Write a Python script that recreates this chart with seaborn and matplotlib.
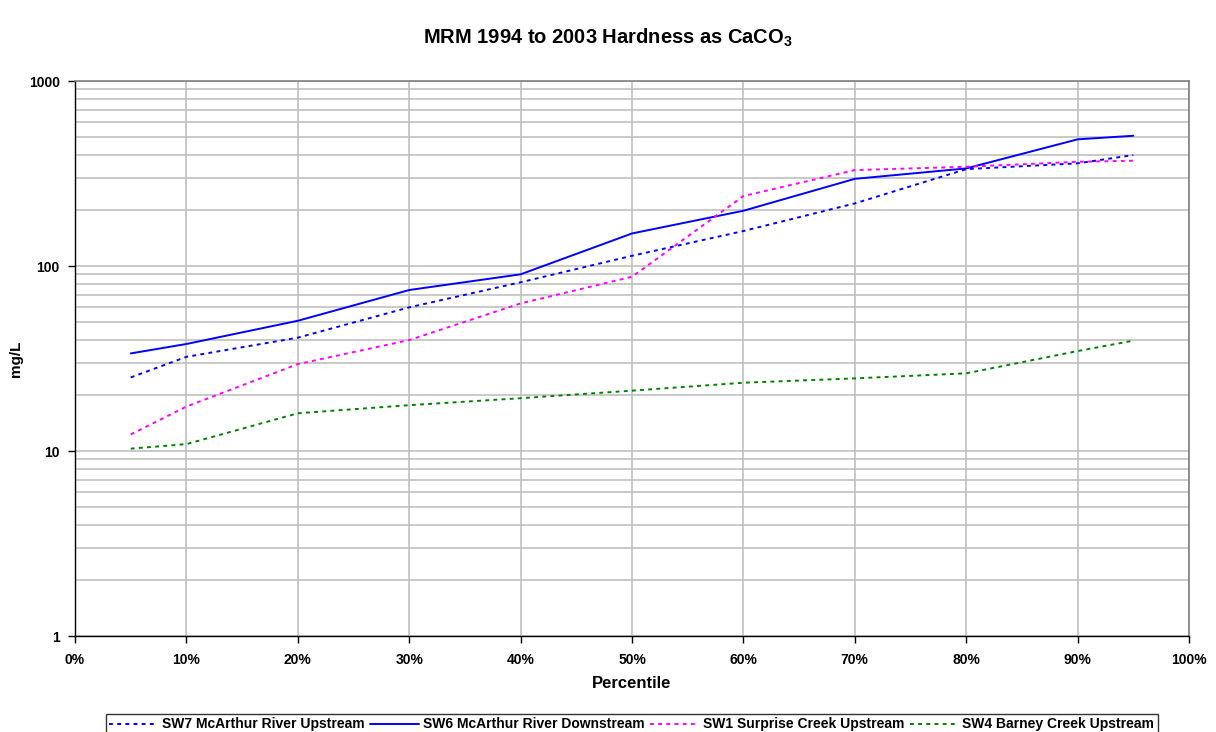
import matplotlib
matplotlib.use("Agg")
import matplotlib.pyplot as plt
import seaborn as sns
import pandas as pd
from matplotlib.ticker import FixedLocator, LogLocator, NullFormatter, FixedFormatter

percentiles = [5, 10, 20, 30, 40, 50, 60, 70, 80, 90, 95]
sw7 = [25.0, 32.3, 41.0, 59.8, 81.7, 113.6, 154.6, 218, 334, 359, 398]
sw6 = [33.7, 37.9, 50.6, 74.2, 90.2, 150, 199, 296, 337, 484, 506]
sw1 = [12.3, 17.4, 29.5, 39.8, 62.8, 87.5, 239, 330, 344, 366, 371]
sw4 = [10.3, 10.9, 16.0, 17.7, 19.3, 21.2, 23.4, 24.7, 26.3, 34.7, 39.5]
series_names = ["SW7 McArthur River Upstream", "SW6 McArthur River Downstream",
                "SW1 Surprise Creek Upstream", "SW4 Barney Creek Upstream"]
x_ticks = [0, 10, 20, 30, 40, 50, 60, 70, 80, 90, 100]
x_labels = ["0%", "10%", "20%", "30%", "40%", "50%", "60%", "70%", "80%", "90%", "100%"]
y_ticks = [1, 10, 100, 1000]
y_labels = ["1", "10", "100", "1000"]

sns.set_style("white")
plt.rcParams["font.family"] = ["Liberation Sans", "DejaVu Sans"]
plt.rcParams["text.color"] = "black"
plt.rcParams["axes.labelcolor"] = "black"
plt.rcParams["xtick.color"] = "black"
plt.rcParams["ytick.color"] = "black"

df = pd.DataFrame({
    "Percentile": percentiles * 4,
    "value": sw7 + sw6 + sw1 + sw4,
    "series": sum([[n] * len(percentiles) for n in series_names], []),
})

colors = {series_names[0]: "#0000ff", series_names[1]: "#0000ff",
          series_names[2]: "#ff00ff", series_names[3]: "#008000"}
dashes = {series_names[0]: (2, 2.2), series_names[1]: "",
          series_names[2]: (2, 2.2), series_names[3]: (2, 2.2)}

fig = plt.figure(figsize=(12.16, 7.32), dpi=100)
ax = fig.add_axes([0.0617, 0.1311, 0.9161, 0.7582])

sns.lineplot(data=df, x="Percentile", y="value", hue="series", style="series",
             palette=colors, dashes=dashes, hue_order=series_names,
             style_order=series_names, linewidth=1.4, ax=ax, legend=True)

ax.set_yscale("log")
ax.set_ylim(1, 1000)
ax.set_xlim(0, 100)

ax.yaxis.set_major_locator(FixedLocator(y_ticks))
ax.yaxis.set_major_formatter(FixedFormatter(y_labels))
ax.yaxis.set_minor_locator(LogLocator(base=10, subs=range(2, 10)))
ax.yaxis.set_minor_formatter(NullFormatter())
ax.xaxis.set_major_locator(FixedLocator(x_ticks))
ax.xaxis.set_major_formatter(FixedFormatter(x_labels))

ax.grid(True, which="major", axis="both", color="#c0c0c0", linewidth=1.2)
ax.grid(True, which="minor", axis="y", color="#c0c0c0", linewidth=1.2)
ax.set_axisbelow(True)

for s in ["top", "right"]:
    ax.spines[s].set_color("#808080")
    ax.spines[s].set_linewidth(1.2)
for s in ["left", "bottom"]:
    ax.spines[s].set_color("black")
    ax.spines[s].set_linewidth(1.0)

ax.tick_params(axis="both", which="major", direction="out", length=5, width=1,
               color="black", labelsize=10, left=True, bottom=True)
ax.tick_params(axis="x", which="major", pad=7)
ax.tick_params(axis="y", which="major", pad=6)
ax.tick_params(axis="y", which="minor", left=False)
for lbl in ax.get_xticklabels() + ax.get_yticklabels():
    lbl.set_fontweight("bold")

ax.set_xlabel("Percentile", fontsize=12, fontweight="bold", labelpad=7)
ax.set_ylabel("mg/L", fontsize=11, fontweight="bold")
ax.yaxis.set_label_coords(-0.0467, 0.5)

fig.text(0.5, 0.948, r"MRM 1994 to 2003 Hardness as CaCO$_\mathregular{3}$",
         ha="center", va="center", fontsize=14.5, fontweight="bold")

handles, labels = ax.get_legend_handles_labels()
ax.get_legend().remove()
leg = fig.legend(handles, labels, loc="lower center", bbox_to_anchor=(0.5195, -0.004),
                 ncol=4, frameon=True, fancybox=False, edgecolor="black",
                 prop={"weight": "bold", "size": 10},
                 handlelength=3.5, handletextpad=0.3, columnspacing=0.4,
                 borderpad=0.25, borderaxespad=0.0)
leg.get_frame().set_linewidth(1.0)

fig.savefig("out.png", dpi=100, facecolor="white")
